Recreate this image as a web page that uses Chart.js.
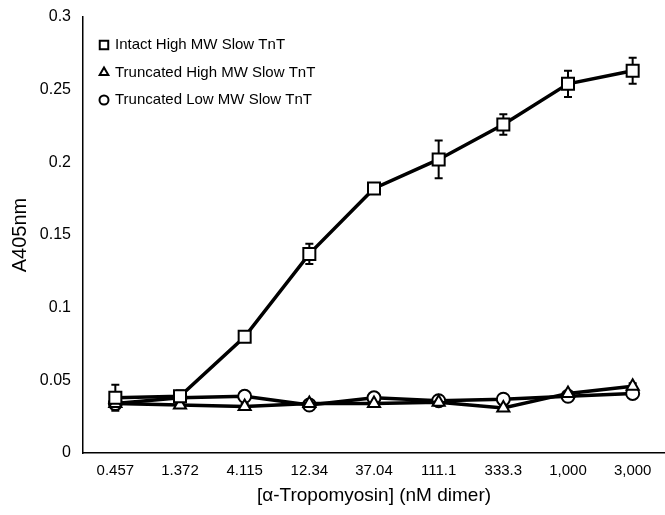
<!DOCTYPE html>
<html>
<head>
<meta charset="utf-8">
<script src="https://cdn.jsdelivr.net/npm/chart.js@4/dist/chart.umd.min.js"></script>
<style>
  body { margin: 0; background: #fff; }
  #wrap { width: 665px; height: 515px; }
</style>
</head>
<body>
<div id="wrap"><canvas id="grafico"></canvas></div>
<script>
// dados
const doses = ["0.457", "1.372", "4.115", "12.34", "37.04", "111.1", "333.3", "1,000", "3,000"];
const intactHigh = [0.038, 0.039, 0.080, 0.137, 0.182, 0.202, 0.226, 0.254, 0.263];
const intactHighErr = [0.009, 0.004, 0.003, 0.007, 0.003, 0.013, 0.007, 0.009, 0.009];
const truncHigh = [0.034, 0.033, 0.032, 0.034, 0.034, 0.035, 0.031, 0.041, 0.046];
const truncHighErr = [0.002, 0.002, 0.002, 0.001, 0.002, 0.001, 0.002, 0.001, 0.002];
const truncLow = [0.034, 0.038, 0.039, 0.033, 0.038, 0.036, 0.037, 0.039, 0.041];
const truncLowErr = [0.002, 0.001, 0.001, 0.001, 0.001, 0.001, 0.001, 0.001, 0.003];
const yTicks = [0, 0.05, 0.1, 0.15, 0.2, 0.25, 0.3];

const fonte = "'Liberation Sans', Arial, sans-serif";

// barras de erro
const errorBars = {
  id: "errorBars",
  beforeDatasetsDraw(chart) {
    const ctx = chart.ctx;
    const y = chart.scales.y;
    chart.data.datasets.forEach((ds, i) => {
      const meta = chart.getDatasetMeta(i);
      ctx.save();
      ctx.strokeStyle = "#000";
      ctx.lineWidth = 2;
      meta.data.forEach((pt, j) => {
        const e = ds.errors[j];
        const top = y.getPixelForValue(ds.data[j] + e);
        const bot = y.getPixelForValue(ds.data[j] - e);
        ctx.beginPath();
        ctx.moveTo(pt.x, top); ctx.lineTo(pt.x, bot);
        ctx.moveTo(pt.x - 4, top); ctx.lineTo(pt.x + 4, top);
        ctx.moveTo(pt.x - 4, bot); ctx.lineTo(pt.x + 4, bot);
        ctx.stroke();
      });
      ctx.restore();
    });
  }
};

// legenda dentro do gráfico
const legendaInterna = {
  id: "legendaInterna",
  afterDraw(chart) {
    const ctx = chart.ctx;
    const a = chart.chartArea;
    ctx.save();
    ctx.font = "15px " + fonte;
    ctx.textBaseline = "middle";
    chart.data.datasets.forEach((ds, i) => {
      const x = a.left + 21;
      const yy = a.top + 28 + i * 27.5;
      ctx.lineWidth = 2;
      ctx.strokeStyle = "#000";
      ctx.fillStyle = "#fff";
      Chart.helpers.drawPoint(ctx, { pointStyle: ds.pointStyle, radius: ds.legendRadius, borderWidth: 2 }, x, yy);
      ctx.fillStyle = "#000";
      ctx.fillText(ds.label, x + 11, yy);
    });
    ctx.restore();
  }
};

new Chart(document.getElementById("grafico"), {
  type: "line",
  data: {
    labels: doses,
    datasets: [
      {
        label: "Intact High MW Slow TnT",
        data: intactHigh,
        errors: intactHighErr,
        pointStyle: "rect",
        pointRadius: 8.5,
        legendRadius: 6,
        borderColor: "#000",
        borderWidth: 3.5,
        pointBackgroundColor: "#fff",
        pointBorderColor: "#000",
        pointBorderWidth: 2,
        tension: 0,
      },
      {
        label: "Truncated High MW Slow TnT",
        data: truncHigh,
        errors: truncHighErr,
        pointStyle: "triangle",
        pointRadius: 7,
        legendRadius: 5,
        borderColor: "#000",
        borderWidth: 3.5,
        pointBackgroundColor: "#fff",
        pointBorderColor: "#000",
        pointBorderWidth: 2,
        tension: 0,
      },
      {
        label: "Truncated Low MW Slow TnT",
        data: truncLow,
        errors: truncLowErr,
        pointStyle: "circle",
        pointRadius: 6.5,
        legendRadius: 4.5,
        borderColor: "#000",
        borderWidth: 3.5,
        pointBackgroundColor: "#fff",
        pointBorderColor: "#000",
        pointBorderWidth: 2,
        tension: 0,
      },
    ],
  },
  options: {
    responsive: true,
    maintainAspectRatio: false,
    animation: false,
    layout: { autoPadding: false, padding: { top: 17, right: 0, bottom: 0, left: 0 } },
    plugins: {
      legend: { display: false },
      tooltip: { enabled: false },
    },
    scales: {
      x: {
        offset: true,
        afterFit: (axis) => { axis.height = 62; },
        grid: { display: false, drawTicks: true, tickLength: 7, tickColor: "#000" },
        border: { color: "#000", width: 1.5 },
        ticks: { color: "#000", font: { family: fonte, size: 15 }, maxRotation: 0, padding: 2 },
        title: { display: true, text: "[α-Tropomyosin] (nM dimer)", color: "#000", font: { family: fonte, size: 19 }, padding: { top: 4, bottom: 8 } },
      },
      y: {
        min: 0,
        max: 0.3,
        afterFit: (axis) => { axis.width = 83; },
        afterBuildTicks: (axis) => { axis.ticks = yTicks.map((v) => ({ value: v })); },
        grid: { display: false, drawTicks: true, tickLength: 7, tickColor: "#000" },
        border: { color: "#000", width: 1.5 },
        ticks: { color: "#000", font: { family: fonte, size: 16 }, padding: 5, callback: (v) => String(v) },
        title: { display: true, text: "A405nm", color: "#000", font: { family: fonte, size: 20 }, padding: { top: 8, bottom: 4 } },
      },
    },
  },
  plugins: [errorBars, legendaInterna],
});
</script>
</body>
</html>
